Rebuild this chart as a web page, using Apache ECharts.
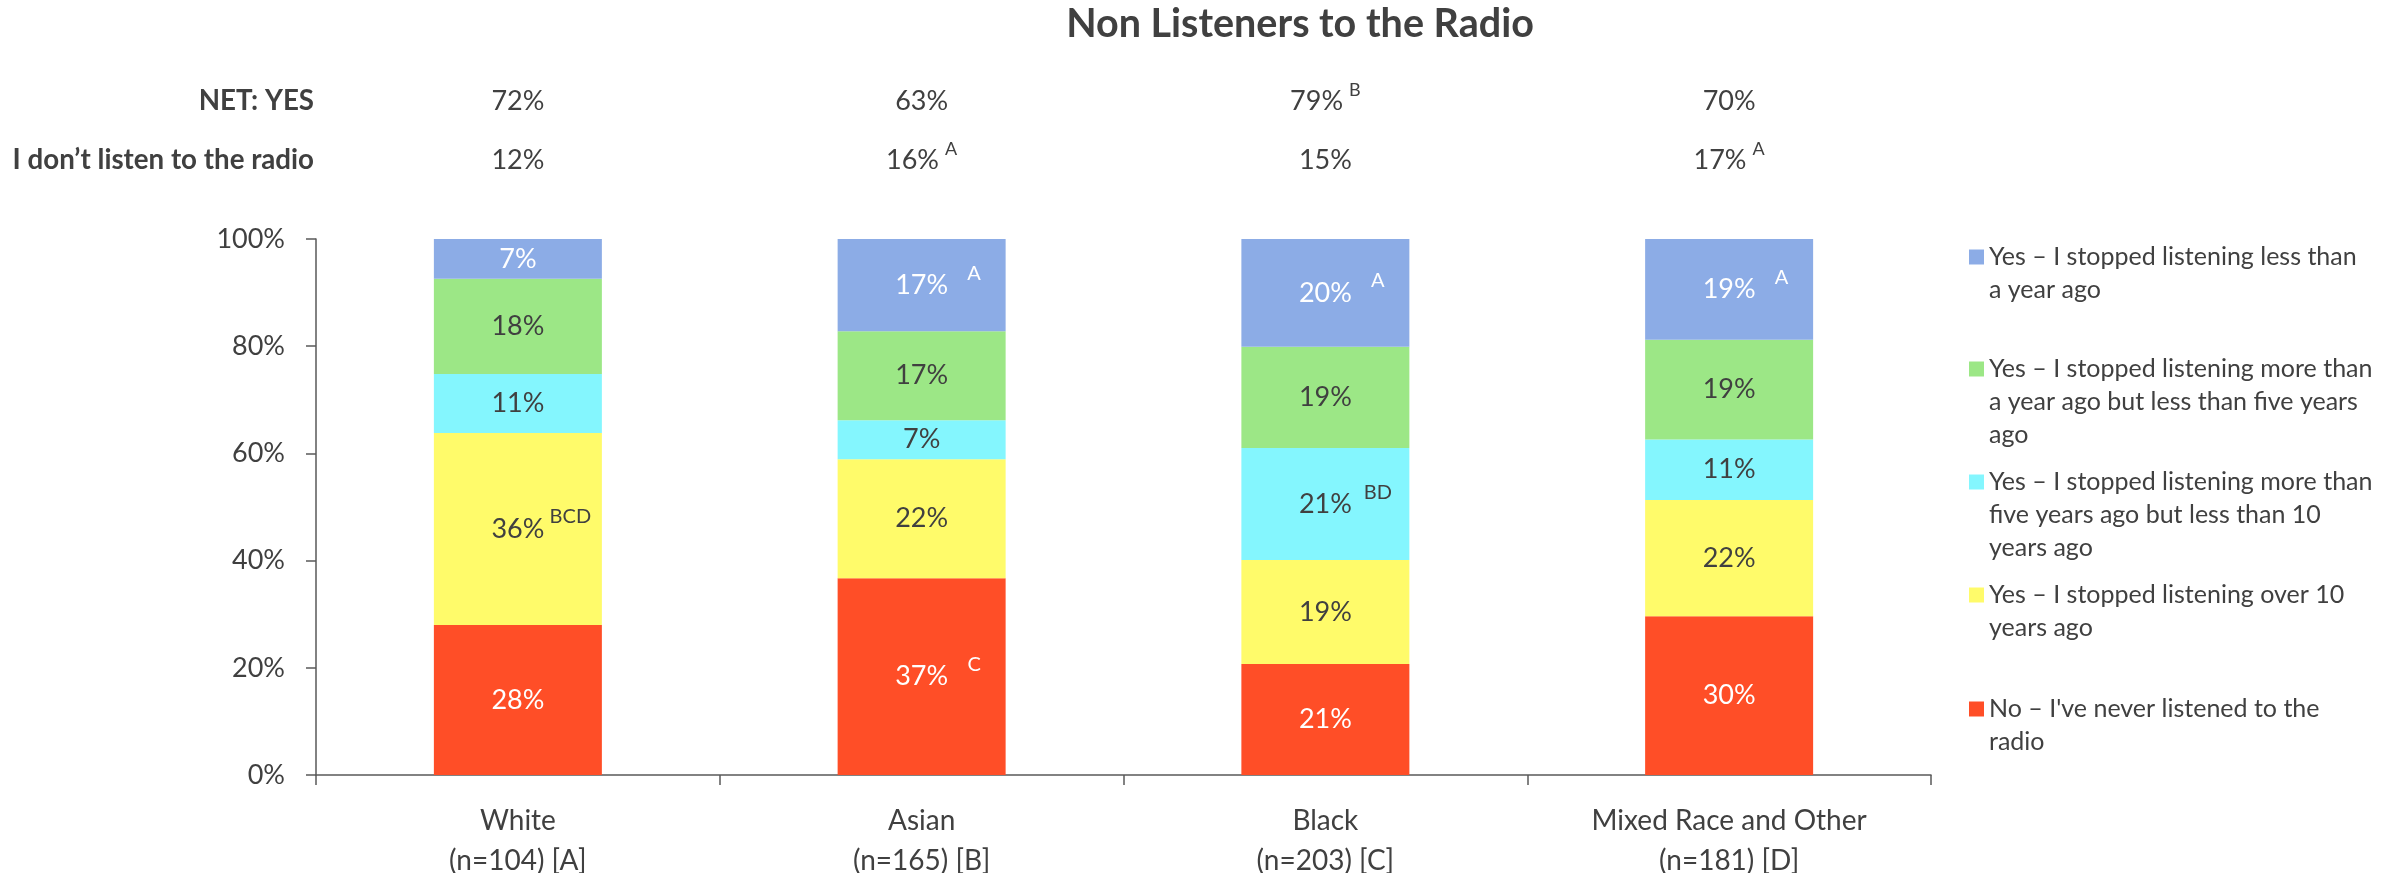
<!DOCTYPE html>
<html><head><meta charset="utf-8">
<script src="https://cdn.jsdelivr.net/npm/echarts@6/dist/echarts.min.js"></script>
<style>html,body{margin:0;padding:0;background:#fff}#c{width:2400px;height:873px}</style>
</head><body><div id="c"></div>
<script>
// ---- data ----
const categories = ['White', 'Asian', 'Black', 'Mixed Race and Other'];
const sampleLabels = ['(n=104) [A]', '(n=165) [B]', '(n=203) [C]', '(n=181) [D]'];

const seriesNames = [
  "No – I've never listened to the radio",
  'Yes – I stopped listening over 10 years ago',
  'Yes – I stopped listening more than five years ago but less than 10 years ago',
  'Yes – I stopped listening more than a year ago but less than five years ago',
  'Yes – I stopped listening less than a year ago'
];
const legendLines = [
  ["No – I've never listened to the", 'radio'],
  ['Yes – I stopped listening over 10', 'years ago'],
  ['Yes – I stopped listening more than', 'five years ago but less than 10', 'years ago'],
  ['Yes – I stopped listening more than', 'a year ago but less than five years', 'ago'],
  ['Yes – I stopped listening less than', 'a year ago']
];

const neverListened = [28.0, 36.7, 20.7, 29.6];
const over10Years   = [35.8, 22.2, 19.4, 21.7];
const fiveTo10Years = [11.0, 7.3, 20.9, 11.3];
const oneTo5Years   = [17.8, 16.6, 18.9, 18.6];
const underOneYear  = [7.4, 17.2, 20.1, 18.8];

const supNever      = ['', 'C', '', ''];
const supOver10     = ['BCD', '', '', ''];
const supFiveTo10   = ['', '', 'BD', ''];
const supOneTo5     = ['', '', '', ''];
const supUnderOne   = ['', 'A', 'A', 'A'];

const netYes        = ['72%', '63%', '79%', '70%'];
const netYesSup     = ['', '', 'B', ''];
const dontListen    = ['12%', '16%', '15%', '17%'];
const dontListenSup = ['', 'A', '', 'A'];

// ---- styling ----
const FONT = 'Lato, "Open Sans", sans-serif';
const TXT = '#404040';
const colors = ['#FF4E27', '#FFFB6A', '#84F6FE', '#9CE786', '#8CACE6'];
const labelColors = ['#ffffff', TXT, TXT, TXT, '#ffffff'];
const values = [neverListened, over10Years, fiveTo10Years, oneTo5Years, underOneYear];
const sups = [supNever, supOver10, supFiveTo10, supOneTo5, supUnderOne];

const chart = echarts.init(document.getElementById('c'), null, {renderer: 'canvas'});

function barRich(color) {
  return {
    v: {fontSize: 27, lineHeight: 44, color: color, fontFamily: FONT},
    s: {fontSize: 20, lineHeight: 22, verticalAlign: 'top', color: color, fontFamily: FONT,
        width: 40, align: 'left', padding: [0, 0, 0, 6]},
    pad: {width: 46, fontSize: 18, lineHeight: 20}
  };
}

const series = values.map((vals, si) => ({
  name: seriesNames[si],
  type: 'bar',
  stack: 'total',
  barWidth: 168,
  data: vals,
  itemStyle: {color: colors[si]},
  label: {
    show: true,
    position: 'inside',
    formatter: p => {
      const v = Math.round(p.value) + '%';
      const s = sups[si][p.dataIndex];
      return s ? '{pad| }{v|' + v + '}{s|' + s + '}' : '{v|' + v + '}';
    },
    rich: barRich(labelColors[si])
  }
}));

const legendCenters = [709, 595, 482, 369, 257]; // icon centre per series index
const LH = 33;
const legends = seriesNames.map((name, si) => {
  const lines = legendLines[si];
  const n = lines.length;
  const spacer = (n - 1) * LH;
  return {
    data: [name],
    orient: 'vertical',
    left: 1969,
    top: legendCenters[si] - (2 * n - 1) * LH / 2,
    padding: 0,
    itemWidth: 15,
    itemHeight: 15,
    selectedMode: false,
    icon: 'rect',
    formatter: () => '{sp| }\n' + lines.map(l => '{t|' + l + '}').join('\n'),
    textStyle: {
      fontSize: 25, lineHeight: LH, color: TXT, fontFamily: FONT,
      rich: {
        sp: {fontSize: spacer, lineHeight: spacer, fontFamily: FONT},
        t: {fontSize: 25, lineHeight: LH, color: TXT, fontFamily: FONT}
      }
    }
  };
});

function headerAxis(vals, sup, name, offset) {
  return {
    type: 'category',
    data: vals,
    position: 'top',
    offset: offset,
    axisLine: {show: false},
    axisTick: {show: false},
    splitLine: {show: false},
    name: name,
    nameLocation: 'start',
    nameGap: 2,
    nameTextStyle: {fontSize: 27.7, fontWeight: 'bold', color: TXT, fontFamily: FONT, verticalAlign: 'middle', align: 'right'},
    axisLabel: {
      interval: 0,
      margin: 0,
      verticalAlign: 'middle',
      formatter: (v, i) => sup[i] ? '{v|' + v + '}{s|' + sup[i] + '}' : '{v|' + v + '}',
      rich: {
        v: {fontSize: 27, lineHeight: 40, color: TXT, fontFamily: FONT},
        s: {fontSize: 18, lineHeight: 20, verticalAlign: 'top', color: TXT, fontFamily: FONT, padding: [0, 0, 0, 6]}
      }
    }
  };
}

const option = {
  backgroundColor: '#ffffff',
  animation: false,
  textStyle: {fontFamily: FONT},
  title: {
    text: 'Non Listeners to the Radio',
    left: 1300,
    top: 2,
    padding: 0,
    textAlign: 'center',
    textStyle: {fontSize: 39.5, fontWeight: 'bold', color: TXT, fontFamily: FONT, lineHeight: 44}
  },
  legend: legends,
  grid: {left: 316, right: 469, top: 239, bottom: 98, containLabel: false, outerBoundsMode: 'none'},
  xAxis: [
    {
      type: 'category',
      data: categories.map((c, i) => c + '\n' + sampleLabels[i]),
      axisLine: {lineStyle: {color: '#595959', width: 1.5}},
      axisTick: {show: true, length: 10, lineStyle: {color: '#595959', width: 1.5}},
      axisLabel: {interval: 0, margin: 26, fontSize: 28, lineHeight: 40, color: TXT, fontFamily: FONT}
    },
    headerAxis(netYes, netYesSup, 'NET: YES', 239 - 101.5),
    headerAxis(dontListen, dontListenSup, 'I don’t listen to the radio', 239 - 160)
  ],
  yAxis: {
    type: 'value',
    min: 0, max: 100, interval: 20,
    axisLine: {show: true, lineStyle: {color: '#595959', width: 1.5}},
    axisTick: {show: true, length: 10, lineStyle: {color: '#595959', width: 1.5}},
    splitLine: {show: false},
    axisLabel: {formatter: '{value}%', margin: 31, fontSize: 27, color: TXT, fontFamily: FONT}
  },
  series: series
};
chart.setOption(option);
</script>
</body></html>
